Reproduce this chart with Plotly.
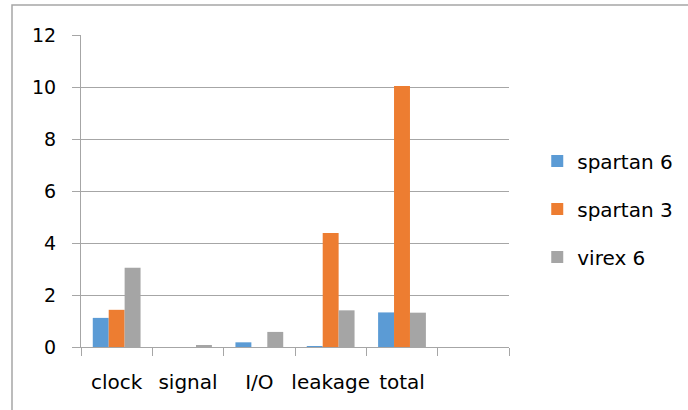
import plotly.graph_objects as go

categories = ["clock", "signal", "I/O", "leakage", "total", " "]
spartan6 = [1.12, 0.0, 0.18, 0.03, 1.33, None]
spartan3 = [1.43, 0.0, 0.0, 4.38, 10.04, None]
virex6 = [3.05, 0.07, 0.58, 1.41, 1.32, None]

series = [("spartan 6", spartan6, "#5B9BD5"),
          ("spartan 3", spartan3, "#ED7D31"),
          ("virex 6", virex6, "#A5A5A5")]

FONT = "DejaVu Sans"
fig = go.Figure()
for i, (name, vals, col) in enumerate(series):
    fig.add_trace(go.Bar(x=categories, y=vals, name=name, marker_color=col,
                         marker_line_width=0, legendgroup=f"g{i}"))

fig.update_layout(
    width=688, height=410, autosize=False,
    margin=dict(l=81, r=179, t=35, b=63, autoexpand=False),
    paper_bgcolor="white", plot_bgcolor="white",
    barmode="group", bargap=0.33, bargroupgap=0,
    font=dict(family=FONT, size=19, color="#000000"),
    legend=dict(x=1.066, xanchor="left", y=0.442, yanchor="middle",
                font=dict(family=FONT, size=20),
                tracegroupgap=19, traceorder="grouped",
                bgcolor="rgba(0,0,0,0)"),
    showlegend=True,
)
fig.update_xaxes(type="category", categoryorder="array", categoryarray=categories,
                 range=[-0.5, 5.5], tickson="boundaries", ticks="outside",
                 ticklen=8, tickcolor="#A6A6A6", showline=True, linecolor="#A6A6A6",
                 linewidth=1, showgrid=False, ticklabelstandoff=17, tickangle=0,
                 automargin=False, tickfont=dict(family=FONT, size=20))
fig.update_yaxes(range=[0, 12], dtick=2, showgrid=True, gridcolor="#A6A6A6",
                 gridwidth=1, ticks="outside", ticklen=8, tickcolor="#A6A6A6",
                 showline=True, linecolor="#A6A6A6", linewidth=1, zeroline=False,
                 ticklabelstandoff=12, automargin=False,
                 tickfont=dict(family=FONT, size=19))
fig.add_shape(type="rect", xref="paper", yref="paper",
              x0=-69/428, x1=1.45, y0=-0.22, y1=342/312,
              line=dict(color="#A6A6A6", width=1.5), fillcolor="rgba(0,0,0,0)",
              layer="below")
fig.write_html("out.html", config={"displayModeBar": False},
               post_script="document.body.style.margin='0';")
